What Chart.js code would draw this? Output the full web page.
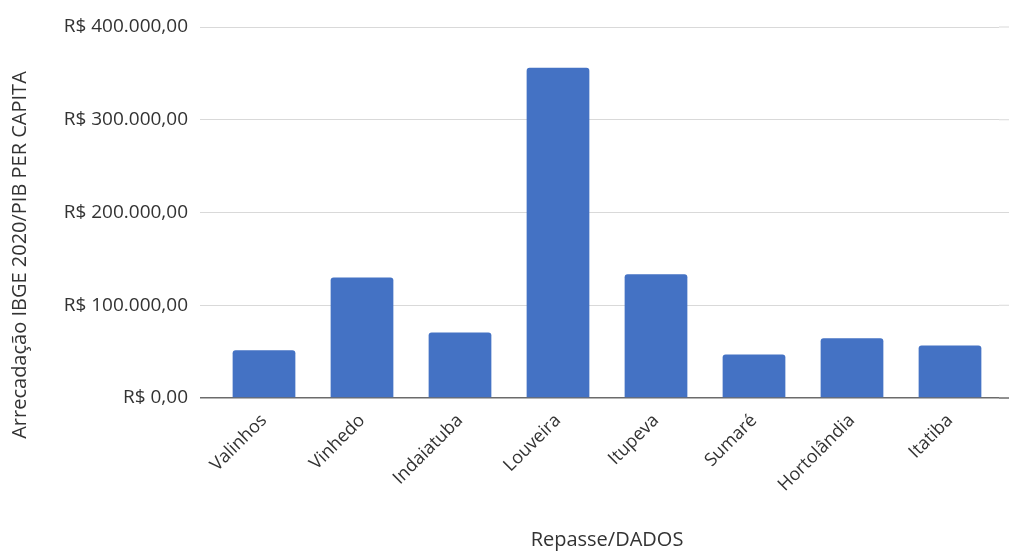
<!DOCTYPE html>
<html>
<head>
<meta charset="utf-8">
<script src="https://cdn.jsdelivr.net/npm/chart.js@4/dist/chart.umd.min.js"></script>
<style>
    html, body { margin: 0; padding: 0; background: #ffffff; }
    #wrap { width: 1009px; height: 552px; }
</style>
</head>
<body>
<div id="wrap"><canvas id="chart"></canvas></div>
<script>
var categories = ["Valinhos", "Vinhedo", "Indaiatuba", "Louveira", "Itupeva", "Sumaré", "Hortolândia", "Itatiba"];
var values = [51600, 130000, 70600, 356000, 133300, 47000, 64500, 56700];
var tickValues = [0, 100000, 200000, 300000, 400000];
var yTitle = "Arrecadação IBGE 2020/PIB PER CAPITA";
var xTitle = "Repasse/DADOS";

var textColor = "#333333";

function formatReal(value) {
    var s = Math.round(value).toString();
    s = s.replace(/\B(?=(\d{3})+(?!\d))/g, ".");
    return "R$ " + s + ",00";
}

// grid lines continue a little past the right edge of the plot,
// and the y title sits a bit lower than the centre of the axis
var extras = {
    "id": "extras",
    "beforeDatasetsDraw": function (chart) {
        var ctx = chart.ctx;
        var y = chart.scales.y;
        var area = chart.chartArea;
        ctx.save();
        tickValues.forEach(function (v) {
            var py = y.getPixelForValue(v);
            ctx.beginPath();
            ctx.strokeStyle = v === 0 ? "#6b6b6b" : "#d9d9d9";
            ctx.lineWidth = v === 0 ? 1.5 : 1;
            ctx.moveTo(area.right, py);
            ctx.lineTo(chart.width, py);
            ctx.stroke();
        });
        ctx.restore();
    },
    "afterDraw": function (chart) {
        var ctx = chart.ctx;
        ctx.save();
        ctx.translate(20, 255);
        ctx.rotate(-Math.PI / 2);
        ctx.fillStyle = textColor;
        ctx.font = "20px 'Open Sans'";
        ctx.textAlign = "center";
        ctx.textBaseline = "middle";
        ctx.fillText(yTitle, 0, 0);
        ctx.restore();
    }
};

var config = {
    "type": "bar",
    "data": {
        "labels": categories,
        "datasets": [{
            "data": values,
            "backgroundColor": "#4472C4",
            "borderRadius": 3,
            "borderSkipped": "bottom",
            "barPercentage": 0.64,
            "categoryPercentage": 1
        }]
    },
    "options": {
        "responsive": true,
        "maintainAspectRatio": false,
        "animation": false,
        "layout": {
            "padding": { "top": 27, "right": 10, "bottom": 0, "left": 0 }
        },
        "plugins": {
            "legend": { "display": false },
            "tooltip": { "enabled": false }
        },
        "scales": {
            "x": {
                "afterFit": function (scale) {
                    scale.height = 154;
                },
                "grid": { "display": false },
                "border": { "display": false },
                "ticks": {
                    "color": textColor,
                    "font": { "family": "Open Sans", "size": 18 },
                    "minRotation": 45,
                    "maxRotation": 45,
                    "padding": 4
                },
                "title": {
                    "display": true,
                    "text": xTitle,
                    "color": textColor,
                    "font": { "family": "Open Sans", "size": 20 },
                    "padding": { "top": 0, "bottom": 0 }
                }
            },
            "y": {
                "min": 0,
                "max": 400000,
                "afterBuildTicks": function (scale) {
                    scale.ticks = tickValues.map(function (v) { return { "value": v }; });
                },
                "afterFit": function (scale) {
                    scale.width = 215;
                },
                "grid": {
                    "color": function (c) { return c.tick && c.tick.value === 0 ? "#6b6b6b" : "#d9d9d9"; },
                    "lineWidth": function (c) { return c.tick && c.tick.value === 0 ? 1.5 : 1; },
                    "tickLength": 15,
                    "drawTicks": true
                },
                "border": { "display": false },
                "ticks": {
                    "color": textColor,
                    "font": { "family": "Open Sans", "size": 19 },
                    "padding": 12,
                    "callback": function (value) { return formatReal(value); }
                }
            }
        }
    },
    "plugins": [extras]
};

var chart = new Chart(document.getElementById("chart").getContext("2d"), config);
</script>
</body>
</html>
